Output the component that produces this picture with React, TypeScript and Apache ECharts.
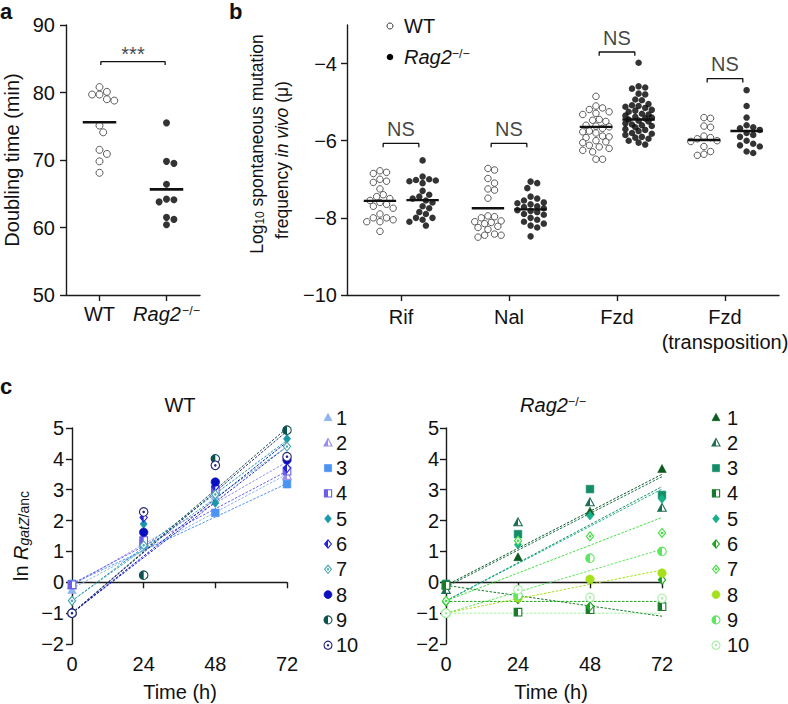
import React, { useEffect, useRef } from 'react';
import * as echarts from 'echarts';

const FONT = '"Liberation Sans", Arial, Helvetica, sans-serif';
const INK = '#111';
const FS = 20;

// ---------- Panel a: doubling time ----------
const aGroups = ['WT', 'Rag2'];
const aWT = [80.1, 79.7, 80.8, 78.8, 79.0, 79.7, 75.1, 74.1, 71.5, 70.9, 69.8, 68.1];
const aRag = [75.5, 69.8, 69.5, 66.4, 64.1, 63.8, 64.2, 61.5, 61.2, 60.4];
const aMeans = [75.6, 65.65];
const aBracketY = 84.56;
const aSig = '***';

// ---------- Panel b: mutation frequency ----------
const bCategories = ['Rif', 'Nal', 'Fzd', 'Fzd\n(transposition)'];
const bRifWT = [-6.78, -6.82, -6.85, -7.0, -7.05, -7.08, -7.25, -7.4, -7.45, -7.5, -7.55, -7.6, -7.65, -7.7, -7.75, -7.9, -8.0, -8.0, -8.05, -8.1, -8.1, -8.35];
const bRifRag = [-6.51, -6.93, -7.0, -7.02, -7.03, -7.05, -7.1, -7.3, -7.4, -7.45, -7.5, -7.55, -7.6, -7.7, -7.75, -7.85, -7.9, -8.0, -8.0, -8.05, -8.1, -8.2];
const bNalWT = [-6.72, -6.76, -6.98, -7.1, -7.25, -7.28, -7.49, -7.95, -7.97, -8.0, -8.08, -8.1, -8.12, -8.15, -8.22, -8.25, -8.3, -8.42, -8.45, -8.45, -8.5];
const bNalRag = [-7.06, -7.1, -7.23, -7.45, -7.5, -7.55, -7.6, -7.62, -7.65, -7.7, -7.72, -7.75, -7.8, -7.82, -7.85, -7.9, -7.92, -8.0, -8.05, -8.1, -8.15, -8.2, -8.25, -8.48];
const bFzdWT = [-4.85, -5.1, -5.15, -5.19, -5.25, -5.29, -5.32, -5.45, -5.47, -5.5, -5.6, -5.62, -5.64, -5.68, -5.75, -5.77, -5.8, -5.88, -5.9, -5.92, -6.0, -6.03, -6.05, -6.12, -6.16, -6.2, -6.25, -6.29, -6.48, -6.48];
const bFzdRag = [-3.98, -4.59, -4.62, -4.65, -4.78, -4.8, -4.93, -4.95, -5.05, -5.08, -5.1, -5.12, -5.15, -5.2, -5.22, -5.25, -5.3, -5.32, -5.35, -5.38, -5.4, -5.42, -5.45, -5.48, -5.5, -5.55, -5.58, -5.6, -5.62, -5.65, -5.7, -5.72, -5.75, -5.8, -5.82, -5.85, -5.9, -5.92, -5.95, -6.0, -6.05, -6.1];
const bTrWT = [-5.4, -5.42, -5.62, -5.65, -5.88, -5.92, -5.95, -6.0, -6.02, -6.15, -6.28, -6.35, -6.38];
const bTrRag = [-4.69, -5.1, -5.4, -5.6, -5.65, -5.68, -5.72, -5.8, -5.85, -5.9, -6.0, -6.08, -6.12, -6.15, -6.28, -6.32];
const bMeansWT = [-7.56, -7.75, -5.64, -5.98];
const bMeansRag = [-7.54, -7.78, -5.45, -5.75];
const bBracketY = [-6.07, -6.07, -3.7, -4.39];
const bSig = ['NS', 'NS', 'NS', 'NS'];

// ---------- Panel c: ln R over time ----------
const cTimes = [0, 24, 48, 72];
const cLabels = ['1', '2', '3', '4', '5', '6', '7', '8', '9', '10'];
const cWTValues = [
  [-0.25, 1.25, 2.8, 3.4],
  [-0.1, 1.3, 2.95, 3.45],
  [-0.05, 1.22, 2.25, 3.18],
  [-0.08, 1.35, 3.0, 3.6],
  [-0.6, 1.89, 2.57, 4.65],
  [-1.0, 2.1, 3.1, 3.7],
  [-0.6, 1.2, 2.85, 4.4],
  [-1.0, 1.62, 3.25, 3.97],
  [-1.0, 0.23, 4.0, 4.93],
  [-1.0, 2.28, 3.79, 4.07],
];
const cWTLineStart = [-0.2, -0.1, -0.05, -0.05, -0.6, -1.0, -0.6, -1.0, -1.0, -1.0];
const cWTLineEnd = [3.5, 3.9, 3.2, 3.6, 4.6, 4.4, 4.4, 4.55, 5.0, 4.9];
const cRagValues = [
  [-0.1, 0.81, 2.29, 3.67],
  [-0.25, 1.94, 2.59, 2.41],
  [-0.05, 1.56, 3.02, 2.83],
  [-0.1, -0.97, -0.89, -0.79],
  [-0.6, 1.22, 2.16, 2.7],
  [-0.62, -0.55, -0.78, 0.08],
  [-0.6, 1.35, 1.49, 1.6],
  [-1.0, -0.5, 0.1, 0.3],
  [-1.0, -0.43, 0.78, 1.0],
  [-1.0, -0.24, -0.49, -0.52],
];
const cRagLineStart = [-0.1, -0.15, -0.6, -0.1, -0.6, -0.62, -0.6, -1.0, -1.0, -1.0];
const cRagLineEnd = [3.5, 3.42, 3.1, -1.1, 3.02, -0.62, 2.1, 0.4, 1.07, -1.0];

// ---------- styles ----------
const cKinds = ['tri', 'triHalf', 'sq', 'sqHalf', 'dia', 'diaHalf', 'diaDot', 'circ', 'circHalf', 'circDot'];
const cWTColors = ['#8fb4ee', '#9a8ff0', '#4a93f2', '#6b5fe6', '#1998a8', '#2323d6', '#4aa8b0', '#0a0fbf', '#0e5250', '#24247a'];
const cRagColors = ['#0b5a1e', '#1c6e50', '#138c68', '#177a28', '#18b08a', '#1ea51e', '#40e040', '#a6e01a', '#5ee65e', '#a6eea6'];

const minus = (v: number | string) => String(v).replace('-', '\u2212');

function swarm(vals: number[], pxX: number, pxY: number, d: number, maxOff: number) {
  const order = vals.map((_, i) => i).sort((a, b) => vals[b] - vals[a]);
  const placed: { x: number; y: number }[] = [];
  const off = new Array(vals.length).fill(0);
  for (const i of order) {
    const y = vals[i] * pxY;
    let best = 0;
    let bestScore = -1;
    for (let k = 0; k < 60; k++) {
      const cand = k === 0 ? 0 : (k % 2 ? 1 : -1) * Math.ceil(k / 2) * d * 0.5;
      if (Math.abs(cand) > maxOff) continue;
      let minD = Infinity;
      for (const p of placed) minD = Math.min(minD, Math.hypot(p.x - cand, p.y - y));
      if (minD >= d) { best = cand; bestScore = Infinity; break; }
      if (minD > bestScore) { bestScore = minD; best = cand; }
    }
    placed.push({ x: best, y });
    off[i] = best / pxX;
  }
  return off;
}

function markerEls(kind: string, cx: number, cy: number, s: number, color: string): any[] {
  const h = s / 2;
  const full = { fill: color, stroke: color, lineWidth: 0.6 };
  const hollow = { fill: '#fff', stroke: color, lineWidth: 1.1 };
  const half = { fill: color, stroke: 'none' };
  const triPts = [[cx, cy - h * 1.05], [cx + h * 1.0, cy + h * 0.8], [cx - h * 1.0, cy + h * 0.8]];
  const dia = [[cx, cy - h * 1.05], [cx + h * 0.85, cy], [cx, cy + h * 1.05], [cx - h * 0.85, cy]];
  const sq = { x: cx - h * 0.9, y: cy - h * 0.9, width: h * 1.8, height: h * 1.8 };
  switch (kind) {
    case 'tri':
      return [{ type: 'polygon', shape: { points: triPts }, style: full }];
    case 'triHalf':
      return [
        { type: 'polygon', shape: { points: triPts }, style: hollow },
        { type: 'polygon', shape: { points: [[cx, cy - h * 1.05], [cx, cy + h * 0.8], [cx - h, cy + h * 0.8]] }, style: half },
      ];
    case 'sq':
      return [{ type: 'rect', shape: sq, style: full }];
    case 'sqHalf':
      return [
        { type: 'rect', shape: sq, style: hollow },
        { type: 'rect', shape: { x: sq.x, y: sq.y, width: h * 0.9, height: h * 1.8 }, style: half },
      ];
    case 'dia':
      return [{ type: 'polygon', shape: { points: dia }, style: full }];
    case 'diaHalf':
      return [
        { type: 'polygon', shape: { points: dia }, style: hollow },
        { type: 'polygon', shape: { points: [[cx, cy - h * 1.05], [cx, cy + h * 1.05], [cx - h * 0.85, cy]] }, style: half },
      ];
    case 'diaDot':
      return [
        { type: 'polygon', shape: { points: dia }, style: hollow },
        { type: 'circle', shape: { cx, cy, r: h * 0.3 }, style: { fill: color } },
      ];
    case 'circ':
      return [{ type: 'circle', shape: { cx, cy, r: h }, style: full }];
    case 'circHalf':
      return [
        { type: 'circle', shape: { cx, cy, r: h }, style: hollow },
        { type: 'sector', shape: { cx, cy, r: h, r0: 0, startAngle: Math.PI / 2, endAngle: (3 * Math.PI) / 2, clockwise: true }, style: half },
      ];
    case 'circDot':
    default:
      return [
        { type: 'circle', shape: { cx, cy, r: h }, style: hollow },
        { type: 'circle', shape: { cx, cy, r: h * 0.3 }, style: { fill: color } },
      ];
  }
}

const axisCommon = {
  axisLine: { lineStyle: { color: '#1a1a1a', width: 1.4 } },
  axisTick: { length: 6, lineStyle: { color: '#1a1a1a', width: 1.4 } },
  splitLine: { show: false },
};
const lbl = { color: INK, fontSize: FS, fontFamily: FONT };
const ragRich = {
  i: { fontStyle: 'italic', fontSize: FS, fontFamily: FONT, color: INK },
  s: { fontSize: 12.5, fontFamily: FONT, color: INK, verticalAlign: 'top', padding: [0, 0, 0, 1] },
};

export default function App() {
  const ref = useRef<HTMLDivElement>(null);
  useEffect(() => {
    document.body.style.margin = '0';
    if (!ref.current) return;
    const chart = echarts.init(ref.current, undefined, { renderer: 'svg' });
    const series: any[] = [];
    const seg = (xi: number, pts: number[][], width: number) => ({
      type: 'line', xAxisIndex: xi, yAxisIndex: xi, data: pts, symbol: 'none', silent: true,
      lineStyle: { color: INK, width }, z: 5,
    });
    const textAt = (xi: number, pt: number[], text: string, dist: number) => ({
      type: 'scatter', xAxisIndex: xi, yAxisIndex: xi, data: [pt], symbolSize: 1, silent: true,
      itemStyle: { color: 'rgba(0,0,0,0)' },
      label: { show: true, formatter: text, position: 'top', distance: dist, ...lbl },
    });

    // ----- Panel a
    const offW = swarm(aWT, 67, 6.75, 7.4, 22);
    const offR = swarm(aRag, 67, 6.75, 7.4, 22);
    series.push({
      type: 'scatter', xAxisIndex: 0, yAxisIndex: 0, symbolSize: 7,
      data: aWT.map((v, i) => [1 + offW[i], v]),
      itemStyle: { color: '#fff', borderColor: '#333', borderWidth: 1 },
    });
    series.push({
      type: 'scatter', xAxisIndex: 0, yAxisIndex: 0, symbolSize: 7,
      data: aRag.map((v, i) => [2 + offR[i], v]),
      itemStyle: { color: '#000' },
    });
    aMeans.forEach((m, i) => series.push(seg(0, [[i + 1 - 0.25, m], [i + 1 + 0.25, m]], 2.6)));
    series.push(seg(0, [[1.02, aBracketY - 0.5], [1.02, aBracketY], [1.98, aBracketY], [1.98, aBracketY - 0.5]], 1.3));
    series.push(textAt(0, [1.5, aBracketY], aSig, -3));

    // ----- Panel b
    const bWT = [bRifWT, bNalWT, bFzdWT, bTrWT];
    const bRag = [bRifRag, bNalRag, bFzdRag, bTrRag];
    bWT.forEach((vals, k) => {
      const off = swarm(vals, 108, 38.67, 6.6, 14);
      series.push({
        type: 'scatter', xAxisIndex: 1, yAxisIndex: 1, symbolSize: 6.5,
        data: vals.map((v, i) => [k + 1 - 0.195 + off[i], v]),
        itemStyle: { color: '#fff', borderColor: '#333', borderWidth: 1 },
      });
    });
    bRag.forEach((vals, k) => {
      const off = swarm(vals, 108, 38.67, 6.6, 14);
      series.push({
        type: 'scatter', xAxisIndex: 1, yAxisIndex: 1, symbolSize: 6.5,
        data: vals.map((v, i) => [k + 1 + 0.2 + off[i], v]),
        itemStyle: { color: '#000' },
      });
    });
    bMeansWT.forEach((m, k) => series.push(seg(1, [[k + 1 - 0.195 - 0.15, m], [k + 1 - 0.195 + 0.15, m]], 2.4)));
    bMeansRag.forEach((m, k) => series.push(seg(1, [[k + 1 + 0.2 - 0.15, m], [k + 1 + 0.2 + 0.15, m]], 2.4)));
    bBracketY.forEach((y, k) => {
      const c = k + 1;
      series.push(seg(1, [[c - 0.165, y - 0.1], [c - 0.165, y], [c + 0.165, y], [c + 0.165, y - 0.1]], 1.3));
      series.push(textAt(1, [c, y], bSig[k], 4));
    });

    // ----- Panel c
    const addC = (xi: number, values: number[][], starts: number[], ends: number[], colors: string[]) => {
      values.forEach((_, i) => {
        series.push({
          type: 'line', xAxisIndex: xi, yAxisIndex: xi, symbol: 'none', silent: true, z: 2,
          data: [[cTimes[0], starts[i]], [cTimes[cTimes.length - 1], ends[i]]],
          lineStyle: { color: colors[i], width: 1, type: [2.5, 1.5] },
        });
      });
      values.forEach((vals, i) => {
        const kind = cKinds[i];
        const color = colors[i];
        series.push({
          type: 'custom', xAxisIndex: xi, yAxisIndex: xi, z: 3, clip: false,
          data: cTimes.map((t, j) => [t, vals[j]]),
          renderItem: (_p: any, api: any) => {
            const p = api.coord([api.value(0), api.value(1)]);
            return { type: 'group', children: markerEls(kind, p[0], p[1], 8.5, color) };
          },
        });
      });
    };
    addC(2, cWTValues, cWTLineStart, cWTLineEnd, cWTColors);
    addC(3, cRagValues, cRagLineStart, cRagLineEnd, cRagColors);

    // ----- graphics
    const g: any[] = [];
    const txt = (x: number, y: number, text: string, extra: any = {}, rich?: any, rotation = 0) => ({
      type: 'text', x, y, rotation,
      style: { text, fill: INK, fontSize: FS, fontFamily: FONT, align: 'center', verticalAlign: 'middle', rich, ...extra },
    });
    g.push(txt(0, 11, 'a', { fontWeight: 'bold', fontSize: 22, align: 'left' }));
    g.push(txt(229, 11, 'b', { fontWeight: 'bold', fontSize: 22, align: 'left' }));
    g.push(txt(0, 386, 'c', { fontWeight: 'bold', fontSize: 22, align: 'left' }));
    g.push(txt(12, 160, 'Doubling time (min)', {}, undefined, Math.PI / 2));
    const bRich = {
      n: { fontSize: 17.5, fontFamily: FONT, fill: INK },
      sub: { fontSize: 12, fontFamily: FONT, fill: INK, verticalAlign: 'bottom' },
      i: { fontSize: 17.5, fontFamily: FONT, fill: INK, fontStyle: 'italic' },
    };
    g.push(txt(257, 144, '{n|Log}{sub|10}{n| spontaneous mutation}', {}, bRich, Math.PI / 2));
    g.push(txt(282, 160, '{n|frequency }{i|in vivo}{n| (\u03bc)}', {}, bRich, Math.PI / 2));
    const cRich = {
      n: { fontSize: FS, fontFamily: FONT, fill: INK },
      i: { fontSize: FS, fontFamily: FONT, fill: INK, fontStyle: 'italic' },
      si: { fontSize: 14, fontFamily: FONT, fill: INK, fontStyle: 'italic', verticalAlign: 'bottom' },
      sn: { fontSize: 14, fontFamily: FONT, fill: INK, verticalAlign: 'bottom' },
    };
    g.push(txt(21, 536, '{n|ln }{i|R}{si|gatZ}{sn|/anc}', {}, cRich, Math.PI / 2));
    const tRich = {
      i: { fontSize: FS, fontFamily: FONT, fill: INK, fontStyle: 'italic' },
      s: { fontSize: 12.5, fontFamily: FONT, fill: INK, verticalAlign: 'top' },
    };
    g.push(txt(180, 405, 'WT'));
    g.push(txt(553, 405, '{i|Rag2}{s|\u2212/\u2212}', {}, tRich));
    g.push(txt(180, 692, 'Time (h)'));
    g.push(txt(551, 692, 'Time (h)'));
    // panel b legend
    g.push({ type: 'circle', shape: { cx: 390, cy: 26, r: 3 }, style: { fill: '#fff', stroke: '#333', lineWidth: 1 } });
    g.push({ type: 'circle', shape: { cx: 390, cy: 57, r: 3.3 }, style: { fill: '#000' } });
    g.push(txt(404, 26, 'WT', { align: 'left' }));
    g.push(txt(404, 57, '{i|Rag2}{s|\u2212/\u2212}', { align: 'left' }, tRich));
    // panel c legends
    cLabels.forEach((l, i) => {
      const y = 417.5 + i * 25.3;
      markerEls(cKinds[i], 328, y, 8, cWTColors[i]).forEach((e) => g.push(e));
      g.push(txt(336, y, l, { align: 'left' }));
      markerEls(cKinds[i], 716, y, 8, cRagColors[i]).forEach((e) => g.push(e));
      g.push(txt(727, y, l, { align: 'left' }));
    });

    const grid = (left: number, top: number, width: number, height: number) => ({
      left, top, width, height, containLabel: false, outerBoundsMode: 'none',
    });

    chart.setOption({
      animation: false,
      textStyle: { fontFamily: FONT },
      grid: [grid(66, 25, 134, 270), grid(347, 25, 432, 270), grid(72, 428, 215, 216), grid(446, 428, 216, 216)],
      xAxis: [
        {
          gridIndex: 0, type: 'value', min: 0.5, max: 2.5, ...axisCommon,
          axisTick: { ...axisCommon.axisTick, customValues: [1, 2] },
          axisLabel: {
            ...lbl, margin: 9, customValues: [1, 2], rich: ragRich,
            formatter: (v: number) => (v === 1 ? aGroups[0] : `{i|${aGroups[1]}}{s|\u2212/\u2212}`),
          },
        },
        {
          gridIndex: 1, type: 'value', min: 0.5, max: 4.5, ...axisCommon,
          axisTick: { ...axisCommon.axisTick, customValues: [1, 2, 3, 4] },
          axisLabel: {
            ...lbl, margin: 9, lineHeight: 25, customValues: [1, 2, 3, 4],
            formatter: (v: number) => bCategories[Math.round(v) - 1] || '',
          },
        },
        {
          gridIndex: 2, type: 'value', min: 0, max: 72, interval: 24, ...axisCommon,
          axisLabel: { ...lbl, margin: 10 },
        },
        {
          gridIndex: 3, type: 'value', min: 0, max: 72, interval: 24, ...axisCommon,
          axisLabel: { ...lbl, margin: 10 },
        },
      ],
      yAxis: [
        {
          gridIndex: 0, type: 'value', min: 50, max: 90, interval: 10, ...axisCommon,
          axisLabel: { ...lbl, margin: 11 },
        },
        {
          gridIndex: 1, type: 'value', min: -10, max: -3, ...axisCommon,
          axisTick: { ...axisCommon.axisTick, customValues: [-10, -8, -6, -4] },
          axisLabel: { ...lbl, margin: 10, customValues: [-10, -8, -6, -4], formatter: (v: number) => minus(v) },
        },
        {
          gridIndex: 2, type: 'value', min: -2, max: 5, interval: 1, ...axisCommon,
          axisLabel: { ...lbl, margin: 8, formatter: (v: number) => minus(v) },
        },
        {
          gridIndex: 3, type: 'value', min: -2, max: 5, interval: 1, ...axisCommon,
          axisLabel: { ...lbl, margin: 7, formatter: (v: number) => minus(v) },
        },
      ],
      series,
      graphic: g,
    });
    return () => chart.dispose();
  }, []);
  return <div ref={ref} style={{ width: 788, height: 704, background: '#fff' }} />;
}
